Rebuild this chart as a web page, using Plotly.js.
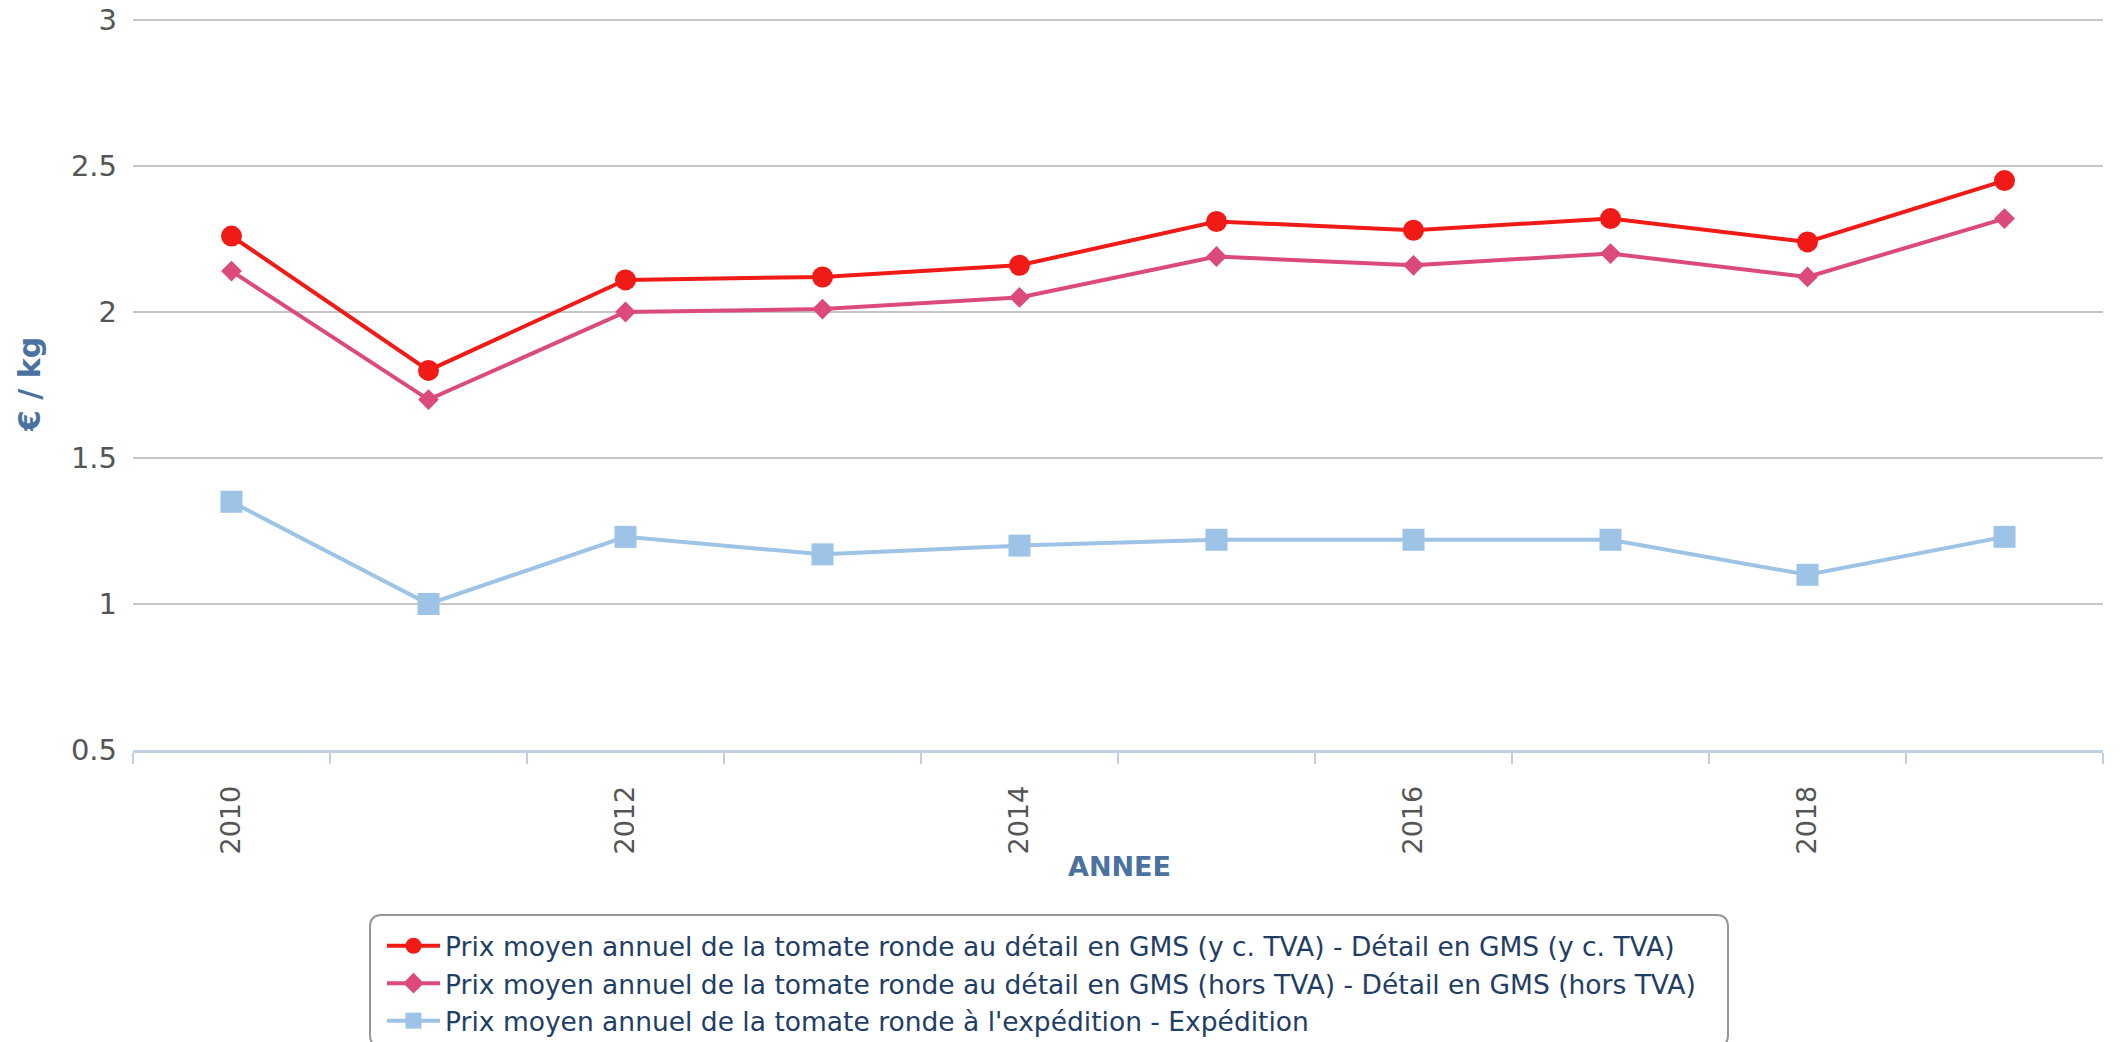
<!DOCTYPE html>
<html>
<head>
<meta charset="utf-8">
<script src="https://cdn.plot.ly/plotly-3.0.1.min.js"></script>
<style>html,body{margin:0;padding:0;background:#fff;}#chart{width:2125px;height:1042px;}</style>
</head>
<body>
<div id="chart"></div>
<script>
const years = [2010, 2011, 2012, 2013, 2014, 2015, 2016, 2017, 2018, 2019];
const detailTTC = [2.26, 1.80, 2.11, 2.12, 2.16, 2.31, 2.28, 2.32, 2.24, 2.45];
const detailHT = [2.14, 1.70, 2.00, 2.01, 2.05, 2.19, 2.16, 2.20, 2.12, 2.32];
const expedition = [1.35, 1.00, 1.23, 1.17, 1.20, 1.22, 1.22, 1.22, 1.10, 1.23];
const seriesNames = [
  "Prix moyen annuel de la tomate ronde au détail en GMS (y c. TVA) - Détail en GMS (y c. TVA)",
  "Prix moyen annuel de la tomate ronde au détail en GMS (hors TVA) - Détail en GMS (hors TVA)",
  "Prix moyen annuel de la tomate ronde à l'expédition - Expédition"
];
const xTickYears = [2010, 2012, 2014, 2016, 2018];
const yTitle = "€ / kg";
const xTitle = "ANNEE";

const FONT = "DejaVu Sans, sans-serif";
const W = 2125, H = 1042;
const M = {l: 133, r: 22, t: 18, b: 292};
const PW = W - M.l - M.r, PH = H - M.t - M.b;
// pixel -> paper / container helpers (for decorations only)
const px = p => (p - M.l) / PW;
const py = p => (H - M.b - p) / PH;
const cy = p => 1 - p / H;

const traces = [
  {x: years, y: detailTTC, name: seriesNames[0], mode: "lines+markers",
   line: {color: "#f01a17", width: 4}, marker: {symbol: "circle", size: 21, color: "#f01a17"}},
  {x: years, y: detailHT, name: seriesNames[1], mode: "lines+markers",
   line: {color: "#db4a78", width: 4}, marker: {symbol: "diamond", size: 16, color: "#db4a78"}},
  {x: years, y: expedition, name: seriesNames[2], mode: "lines+markers",
   line: {color: "#9dc3e6", width: 4}, marker: {symbol: "square", size: 22, color: "#9dc3e6"}}
];
const boundaries = years.map(y => y - 0.5).concat([years[years.length - 1] + 0.5]);

// rounded legend frame
const bx0 = px(370), bx1 = px(1728), by0 = py(915), by1 = py(1047);
const rx = 12 / PW, ry = 12 / PH;
const framePath = `M ${bx0 + rx},${by0} L ${bx1 - rx},${by0} Q ${bx1},${by0} ${bx1},${by0 - ry} ` +
  `L ${bx1},${by1 + ry} Q ${bx1},${by1} ${bx1 - rx},${by1} L ${bx0 + rx},${by1} ` +
  `Q ${bx0},${by1} ${bx0},${by1 + ry} L ${bx0},${by0 - ry} Q ${bx0},${by0} ${bx0 + rx},${by0} Z`;

const layout = {
  width: W, height: H,
  margin: M,
  paper_bgcolor: "#ffffff", plot_bgcolor: "#ffffff",
  font: {family: FONT, color: "#555555", size: 24},
  showlegend: true,
  xaxis: {
    range: [years[0] - 0.5, years[years.length - 1] + 0.5],
    tickvals: xTickYears, ticktext: xTickYears.map(String),
    tickangle: -90, ticks: "", showgrid: false, zeroline: false,
    showline: true, linecolor: "#c0d0e0", linewidth: 3,
    tickfont: {size: 27, color: "#555555", family: FONT},
    ticklabelstandoff: 22,
    minor: {tickvals: boundaries, ticks: "outside", ticklen: 11, tickwidth: 2, tickcolor: "#c0d0e0", showgrid: false},
    fixedrange: true
  },
  yaxis: {
    range: [0.5, 0.5 + PH / 292], dtick: 0.5, tick0: 0.5,
    showgrid: true, gridcolor: "#c6c6c6", gridwidth: 2, zeroline: false, showline: false,
    ticks: "", tickfont: {size: 29, color: "#555555", family: FONT},
    ticklabelstandoff: 15,
    fixedrange: true
  },
  annotations: [
    {text: "<b>" + yTitle + "</b>", xref: "paper", yref: "paper", x: px(29), y: 0.5 * (py(20) + py(750)),
     xanchor: "center", yanchor: "middle", textangle: -90, showarrow: false,
     font: {size: 30, color: "#4a72a0", family: FONT}},
    {text: "<b>" + xTitle + "</b>", xref: "paper", yref: "paper", x: px(1119), y: py(866),
     xanchor: "center", yanchor: "middle", showarrow: false,
     font: {size: 27, color: "#4a72a0", family: FONT}}
  ],
  shapes: [
    {type: "path", xref: "paper", yref: "paper", path: framePath,
     line: {color: "#969696", width: 2}, fillcolor: "rgba(0,0,0,0)", layer: "below"}
  ],
  legend: {
    orientation: "v", xref: "paper", yref: "container",
    x: px(382), xanchor: "left", y: cy(922), yanchor: "top",
    borderwidth: 0, bgcolor: "rgba(0,0,0,0)",
    font: {size: 26.5, color: "#1f3e66", family: FONT},
    itemwidth: 53, tracegroupgap: 0
  }
};
Plotly.newPlot("chart", traces, layout, {displayModeBar: false, staticPlot: true});
</script>
</body>
</html>
